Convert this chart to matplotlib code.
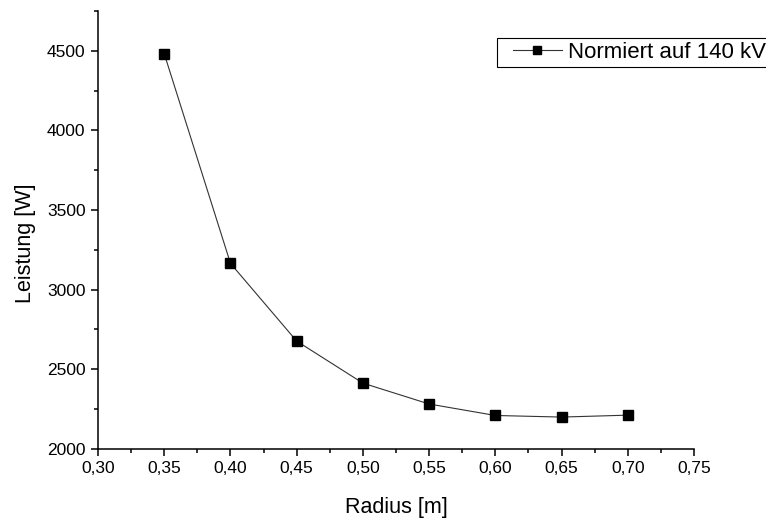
import matplotlib
matplotlib.use('Agg')
import matplotlib.pyplot as plt
import matplotlib.ticker as ticker
from matplotlib.legend_handler import HandlerLine2D

plt.rcParams['font.family'] = ['Liberation Sans', 'DejaVu Sans']

radius = [0.35, 0.40, 0.45, 0.50, 0.55, 0.60, 0.65, 0.70]
leistung = [4481, 3165, 2677, 2413, 2282, 2210, 2200, 2212]
label = 'Normiert auf 140 kV'

fig = plt.figure(figsize=(7.66, 5.22), dpi=100)
ax = fig.add_axes([0.128, 0.14, 0.778, 0.839])

line, = ax.plot(radius, leistung, color='#333333', lw=0.8, marker='s', ms=7.2,
                mfc='black', mec='black', label=label)

ax.set_xlim(0.30, 0.75)
ax.set_ylim(2000, 4750)
ax.xaxis.set_major_locator(ticker.MultipleLocator(0.05))
ax.xaxis.set_minor_locator(ticker.MultipleLocator(0.025))
ax.yaxis.set_major_locator(ticker.MultipleLocator(500))
ax.yaxis.set_minor_locator(ticker.MultipleLocator(250))
ax.xaxis.set_major_formatter(ticker.FuncFormatter(lambda v, p: f'{v:.2f}'.replace('.', ',')))
ax.yaxis.set_major_formatter(ticker.FuncFormatter(lambda v, p: f'{v:.0f}'))

for s in ['top', 'right']:
    ax.spines[s].set_visible(False)
for s in ['left', 'bottom']:
    ax.spines[s].set_linewidth(1.1)

ax.tick_params(which='major', direction='out', length=5, width=1.1, labelsize=12.5, pad=4)
ax.tick_params(which='minor', direction='out', length=3, width=1.1)

ax.set_xlabel('Radius [m]', fontsize=15.5, labelpad=15)
ax.set_ylabel('Leistung [W]', fontsize=15.5, labelpad=8, y=0.47)

leg = fig.legend(loc='upper left', bbox_to_anchor=(0.649, 0.927), fontsize=16,
                 frameon=True, fancybox=False, edgecolor='black', framealpha=1,
                 handlelength=2.74, handletextpad=0.27, borderpad=0.17, borderaxespad=0,
                 markerscale=0.85, handler_map={line: HandlerLine2D(xpad=0.54)})
leg.get_frame().set_linewidth(0.8)

fig.savefig('out.png', dpi=100)
